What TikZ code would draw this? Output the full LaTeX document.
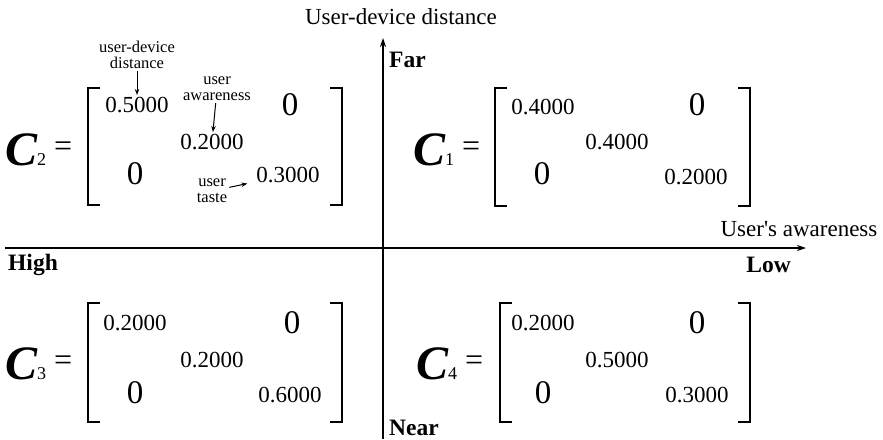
\documentclass[tikz,border=0pt]{standalone}
\usepackage{fontspec}
\setmainfont{Liberation Serif}
\usetikzlibrary{arrows.meta}

\newcommand{\matname}[1]{{\fontsize{48}{48}\selectfont\bfseries\itshape C}\kern0pt{\fontsize{18}{18}\selectfont #1}\kern8pt\raisebox{9pt}{\fontsize{32}{32}\selectfont =}}

\tikzset{
  cname/.style={anchor=base west, inner sep=0pt},
  entry/.style={font=\fontsize{23}{23}\selectfont, inner sep=1pt},
  zero/.style={font=\fontsize{33}{33}\selectfont, inner sep=1pt},
  note/.style={font=\fontsize{16.5}{16}\selectfont, align=center, inner sep=0pt},
  side/.style={font=\fontsize{23.5}{23.5}\selectfont\bfseries, inner sep=0pt},
  title/.style={font=\fontsize{23}{23}\selectfont, inner sep=0pt},
  bracket/.style={line width=1.8pt},
  axis/.style={line width=1.3pt, -{Stealth[length=9pt,width=6pt]}},
  pointer/.style={line width=1pt, -{Stealth[length=6pt,width=4.5pt]}, shorten <=2pt, shorten >=1pt}
}

\begin{document}
\begin{tikzpicture}[x=1pt, y=-1pt]
\useasboundingbox (0,0) rectangle (883,439);

% axes
\coordinate (xl) at (5,248);
\coordinate (xr) at (806,248);
\coordinate (yb) at (383,439);
\coordinate (yt) at (383,38);
\draw[axis] (xl) -- (xr);
\draw[axis] (yb) -- (yt);
\node[title] (ytitle) at (401,17) {User-device distance};
\node[title] (xtitle) at (799,229) {User\textquotesingle s awareness};
\node[side, anchor=west] (far) at (389,60) {Far};
\node[side, anchor=west] (near) at (389,428) {Near};
\node[side, anchor=west] (high) at (8,265) {High};
\node[side, anchor=east] (low) at (791,265) {Low};

% C2
\node[cname] (c2) at (5,165) {\matname{2}};
\draw[bracket] (100,88) -- (88,88) -- (88,205) -- (100,205);
\draw[bracket] (330,88) -- (342,88) -- (342,205) -- (330,205);
\node[entry] (c2a) at (137,105) {0.5000};
\node[zero] (c2b) at (290,105) {0};
\node[entry] (c2c) at (212,142) {0.2000};
\node[zero] (c2d) at (135,174) {0};
\node[entry] (c2e) at (288,175) {0.3000};
\node[note] (dist) at (137,55) {user-device\\distance};
\node[note] (aware) at (217,89) {user\\awareness};
\node[note] (taste) at (212,191) {user\\taste};
\draw[pointer] (dist) -- (c2a);
\draw[pointer] (aware) -- (c2c);
\draw[pointer, shorten >=8pt] (taste) -- (c2e);

% C1
\node[cname] (c1) at (413,165) {\matname{1}};
\draw[bracket] (507,88) -- (495,88) -- (495,206) -- (507,206);
\draw[bracket] (738,88) -- (750,88) -- (750,206) -- (738,206);
\node[entry] (c1a) at (543,107) {0.4000};
\node[zero] (c1b) at (697,105) {0};
\node[entry] (c1c) at (617,142) {0.4000};
\node[zero] (c1d) at (542,174) {0};
\node[entry] (c1e) at (696,177) {0.2000};

% C3
\node[cname] (c3) at (5,379) {\matname{3}};
\draw[bracket] (100,303) -- (88,303) -- (88,422) -- (100,422);
\draw[bracket] (330,303) -- (342,303) -- (342,422) -- (330,422);
\node[entry] (c3a) at (135,323) {0.2000};
\node[zero] (c3b) at (292,323) {0};
\node[entry] (c3c) at (212,360) {0.2000};
\node[zero] (c3d) at (135,393) {0};
\node[entry] (c3e) at (290,395) {0.6000};

% C4
\node[cname] (c4) at (416,379) {\matname{4}};
\draw[bracket] (512,303) -- (500,303) -- (500,422) -- (512,422);
\draw[bracket] (738,303) -- (750,303) -- (750,422) -- (738,422);
\node[entry] (c4a) at (543,323) {0.2000};
\node[zero] (c4b) at (697,323) {0};
\node[entry] (c4c) at (617,360) {0.5000};
\node[zero] (c4d) at (543,393) {0};
\node[entry] (c4e) at (697,395) {0.3000};
\end{tikzpicture}
\end{document}
